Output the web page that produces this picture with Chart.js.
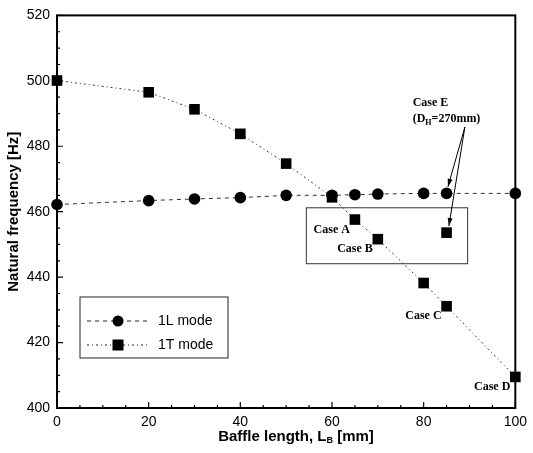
<!DOCTYPE html>
<html>
<head>
<meta charset="utf-8">
<script src="https://cdn.jsdelivr.net/npm/chart.js"></script>
<style>
html,body{margin:0;padding:0;background:#fff;}
#wrap{width:533px;height:453px;position:relative;}
</style>
</head>
<body>
<div id="wrap"><canvas id="mycanvas"></canvas></div>
<script>
// baffle length [mm] and natural frequency [Hz]
var baffleLen = [0, 20, 30, 40, 50, 60, 65, 70, 80, 85, 100];
var mode1L = [462.2, 463.4, 463.9, 464.3, 465.0, 465.0, 465.2, 465.4, 465.6, 465.6, 465.6];
var mode1T = [500.1, 496.5, 491.3, 483.8, 474.7, 464.4, 457.6, 451.6, 438.2, 431.1, 409.5];
var caseEx = [85];
var caseEy = [453.6];
var xTicks = [0, 20, 40, 60, 80, 100];
var yTicks = [400, 420, 440, 460, 480, 500, 520];
var caseNames = ['Case A', 'Case B', 'Case C', 'Case D'];
var caseAtX = [65, 70, 85, 100];
var caseAtY = [457.6, 451.6, 431.1, 409.5];

function pts(xs, ys) {
	var out = [];
	for (var i in xs) out.push({x: xs[i], y: ys[i]});
	return out;
}

var sans = "'Liberation Sans', Arial, sans-serif";
var serif = "'Liberation Serif', 'Times New Roman', serif";

var extras = {
	id: 'extras',
	afterDraw: function(chart) {
		var ctx = chart.ctx;
		var a = chart.chartArea;
		var xs = chart.scales.x, ys = chart.scales.y;
		ctx.save();

		// frame
		ctx.strokeStyle = '#000';
		ctx.lineWidth = 2;
		ctx.setLineDash([]);
		ctx.strokeRect(a.left, a.top, a.right - a.left, a.bottom - a.top);

		// inward ticks, major and minor
		ctx.lineWidth = 1.2;
		ctx.beginPath();
		for (var v = 0; v <= 100; v += 5) {
			var px = xs.getPixelForValue(v);
			var len = (v % 20 === 0) ? 6 : 3;
			ctx.moveTo(px, a.bottom);
			ctx.lineTo(px, a.bottom - len);
		}
		for (var w = 400; w <= 520; w += 5) {
			var py = ys.getPixelForValue(w);
			var l2 = (w % 20 === 0) ? 6 : 3;
			ctx.moveTo(a.left, py);
			ctx.lineTo(a.left + l2, py);
		}
		ctx.stroke();

		// box round cases A, B and E
		ctx.lineWidth = 1;
		ctx.strokeStyle = '#333';
		var bx1 = xs.getPixelForValue(54.4), bx2 = xs.getPixelForValue(89.6);
		var by1 = ys.getPixelForValue(461.2), by2 = ys.getPixelForValue(444.1);
		ctx.strokeRect(bx1, by1, bx2 - bx1, by2 - by1);

		// arrows for case E
		function arrow(x0, y0, x1, y1) {
			ctx.beginPath();
			ctx.moveTo(x0, y0);
			ctx.lineTo(x1, y1);
			ctx.stroke();
			var ang = Math.atan2(y1 - y0, x1 - x0);
			ctx.beginPath();
			ctx.moveTo(x1, y1);
			ctx.lineTo(x1 - 8 * Math.cos(ang) + 2.5 * Math.sin(ang), y1 - 8 * Math.sin(ang) - 2.5 * Math.cos(ang));
			ctx.lineTo(x1 - 8 * Math.cos(ang) - 2.5 * Math.sin(ang), y1 - 8 * Math.sin(ang) + 2.5 * Math.cos(ang));
			ctx.closePath();
			ctx.fill();
		}
		ctx.strokeStyle = '#000';
		ctx.fillStyle = '#000';
		var tx = xs.getPixelForValue(89), ty = ys.getPixelForValue(485.9);
		arrow(tx, ty, xs.getPixelForValue(85.3), ys.getPixelForValue(467.6));
		arrow(tx, ty, xs.getPixelForValue(85.5), ys.getPixelForValue(455.6));

		// case labels
		ctx.font = 'bold 12px ' + serif;
		ctx.textAlign = 'right';
		ctx.textBaseline = 'middle';
		for (var i in caseNames) {
			ctx.fillText(caseNames[i], xs.getPixelForValue(caseAtX[i]) - 5, ys.getPixelForValue(caseAtY[i]) + 10);
		}
		ctx.textAlign = 'left';
		var ex = xs.getPixelForValue(77.6);
		ctx.fillText('Case E', ex, ys.getPixelForValue(493.4));
		var ey = ys.getPixelForValue(488.5);
		ctx.fillText('(D', ex, ey);
		var wx = ex + ctx.measureText('(D').width;
		ctx.font = 'bold 8px ' + serif;
		ctx.fillText('H', wx, ey + 4);
		wx += ctx.measureText('H').width;
		ctx.font = 'bold 12px ' + serif;
		ctx.fillText('=270mm)', wx, ey);

		// legend
		ctx.lineWidth = 1;
		ctx.strokeStyle = '#222';
		ctx.strokeRect(80, 297, 148, 61);
		var rows = [321, 345];
		var dsets = chart.data.datasets;
		for (var k = 0; k < 2; k++) {
			var ry = rows[k];
			ctx.beginPath();
			ctx.setLineDash(dsets[k].borderDash);
			ctx.moveTo(87, ry);
			ctx.lineTo(147, ry);
			ctx.stroke();
			ctx.setLineDash([]);
			ctx.beginPath();
			if (dsets[k].pointStyle === 'circle') {
				ctx.arc(118, ry, 5.5, 0, Math.PI * 2);
			} else {
				ctx.rect(112.5, ry - 5.5, 11, 11);
			}
			ctx.fill();
			ctx.font = '14px ' + sans;
			ctx.textAlign = 'left';
			ctx.fillText(dsets[k].label, 158, ry);
		}

		// axis titles
		ctx.font = 'bold 15px ' + sans;
		ctx.textAlign = 'center';
		ctx.save();
		ctx.translate(14, (a.top + a.bottom) / 2);
		ctx.rotate(-Math.PI / 2);
		ctx.fillText('Natural frequency [Hz]', 0, 0);
		ctx.restore();

		var t1 = 'Baffle length, L', t2 = 'B', t3 = ' [mm]';
		ctx.font = 'bold 15px ' + sans;
		var w1 = ctx.measureText(t1).width, w3 = ctx.measureText(t3).width;
		ctx.font = 'bold 9px ' + sans;
		var w2 = ctx.measureText(t2).width;
		var sx = 296 - (w1 + w2 + w3) / 2, sy = 437;
		ctx.textAlign = 'left';
		ctx.font = 'bold 15px ' + sans;
		ctx.fillText(t1, sx, sy);
		ctx.font = 'bold 9px ' + sans;
		ctx.fillText(t2, sx + w1, sy + 4);
		ctx.font = 'bold 15px ' + sans;
		ctx.fillText(t3, sx + w1 + w2, sy);

		ctx.restore();
	}
};

var chartdata = {
	datasets: [
		{
			label: '1L mode',
			data: pts(baffleLen, mode1L),
			borderColor: '#333',
			backgroundColor: '#000',
			borderWidth: 1,
			borderDash: [4, 4],
			pointStyle: 'circle',
			pointRadius: 5.8,
			pointBorderWidth: 0,
			showLine: true
		},
		{
			label: '1T mode',
			data: pts(baffleLen, mode1T),
			borderColor: '#333',
			backgroundColor: '#000',
			borderWidth: 1,
			borderDash: [2, 3, 1, 3],
			pointStyle: 'rect',
			pointRadius: 7.5,
			pointBorderWidth: 0,
			showLine: true
		},
		{
			label: 'Case E',
			data: pts(caseEx, caseEy),
			backgroundColor: '#000',
			pointStyle: 'rect',
			pointRadius: 7.5,
			pointBorderWidth: 0,
			showLine: false
		}
	]
};

var ctx = document.getElementById('mycanvas');
var chart = new Chart(ctx, {
	type: 'scatter',
	data: chartdata,
	plugins: [extras],
	options: {
		responsive: true,
		maintainAspectRatio: false,
		animation: false,
		clip: false,
		layout: {padding: {top: 13, right: 12, left: 0, bottom: 0}},
		plugins: {legend: {display: false}, tooltip: {enabled: false}},
		scales: {
			x: {
				type: 'linear', min: 0, max: 100,
				afterBuildTicks: function(s) { s.ticks = xTicks.map(function(v) { return {value: v}; }); },
				afterFit: function(s) { s.height = 45; },
				grid: {display: false, drawTicks: false},
				border: {display: false},
				ticks: {color: '#000', padding: 6, font: {size: 14, family: sans}, maxRotation: 0}
			},
			y: {
				type: 'linear', min: 400, max: 520,
				afterBuildTicks: function(s) { s.ticks = yTicks.map(function(v) { return {value: v}; }); },
				afterFit: function(s) { s.width = 57; },
				grid: {display: false, drawTicks: false},
				border: {display: false},
				ticks: {color: '#000', padding: 7, font: {size: 14, family: sans}}
			}
		}
	}
});
</script>
</body>
</html>
